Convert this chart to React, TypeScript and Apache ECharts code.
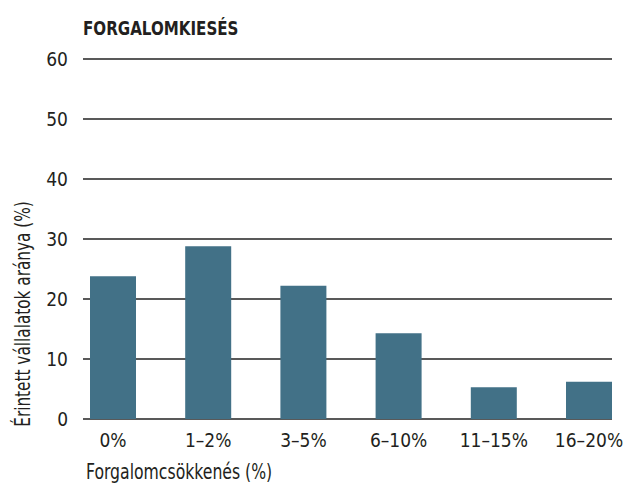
import React, { useEffect, useRef } from "react";
import * as echarts from "echarts";

const categories = ["0%", "1–2%", "3–5%", "6–10%", "11–15%", "16–20%"];
const values = [23.8, 28.8, 22.2, 14.3, 5.3, 6.2];
const yTicks = [0, 10, 20, 30, 40, 50, 60];
const title = "FORGALOMKIESÉS";
const xTitle = "Forgalomcsökkenés (%)";
const yTitle = "Érintett vállalatok aránya (%)";

const FONT = "'Liberation Sans Narrow', 'DejaVu Sans Condensed', 'Roboto Condensed', sans-serif";
const TEXT = "#231f20";

export default function App() {
  const ref = useRef<HTMLDivElement>(null);
  useEffect(() => {
    if (!ref.current) return;
    const chart = echarts.init(ref.current, undefined, { renderer: "svg" });
    const yMin = yTicks[0];
    const yMax = yTicks[yTicks.length - 1];
    chart.setOption({
      animation: false,
      textStyle: { fontFamily: FONT },
      grid: [
        { left: 83, right: 15, top: 59, bottom: 67 },
        { left: 113, right: 38, top: 59, bottom: 67 },
      ],
      xAxis: [
        { type: "value", gridIndex: 0, show: false, min: 0, max: 1 },
        {
          type: "category",
          gridIndex: 1,
          data: categories,
          boundaryGap: false,
          axisLine: { show: false },
          axisTick: { show: false },
          splitLine: { show: false },
          axisLabel: { fontSize: 19, color: TEXT, margin: 11, interval: 0, fontFamily: FONT },
        },
      ],
      yAxis: [
        {
          type: "value",
          gridIndex: 0,
          min: yMin,
          max: yMax,
          interval: 10,
          axisLine: { show: false },
          axisTick: { show: false },
          axisLabel: { fontSize: 19, color: TEXT, margin: 15, fontFamily: FONT },
          splitLine: { show: true, lineStyle: { color: "#222", width: 1.5 } },
        },
        { type: "value", gridIndex: 1, min: yMin, max: yMax, interval: 10, show: false, splitLine: { show: false } },
      ],
      series: [
        {
          type: "bar",
          xAxisIndex: 1,
          yAxisIndex: 1,
          data: values,
          barWidth: 46,
          clip: false,
          itemStyle: { color: "#427187" },
          z: 3,
        },
      ],
      graphic: [
        {
          type: "text",
          x: 83,
          y: 28,
          scaleX: 0.84,
          style: { text: title, fontSize: 20, fontWeight: "bold", fill: TEXT, fontFamily: FONT, align: "left", verticalAlign: "middle" },
        },
        {
          type: "text",
          x: 86,
          y: 472,
          scaleX: 0.83,
          style: { text: xTitle, fontSize: 21, fill: TEXT, fontFamily: FONT, align: "left", verticalAlign: "middle" },
        },
        {
          type: "text",
          x: 23,
          y: 314,
          rotation: Math.PI / 2,
          scaleX: 0.81,
          style: { text: yTitle, fontSize: 21, fill: TEXT, fontFamily: FONT, align: "center", verticalAlign: "middle" },
        },
      ],
    });
    return () => chart.dispose();
  }, []);
  return <div ref={ref} style={{ position: "absolute", left: 0, top: 0, width: 627, height: 486 }} />;
}
